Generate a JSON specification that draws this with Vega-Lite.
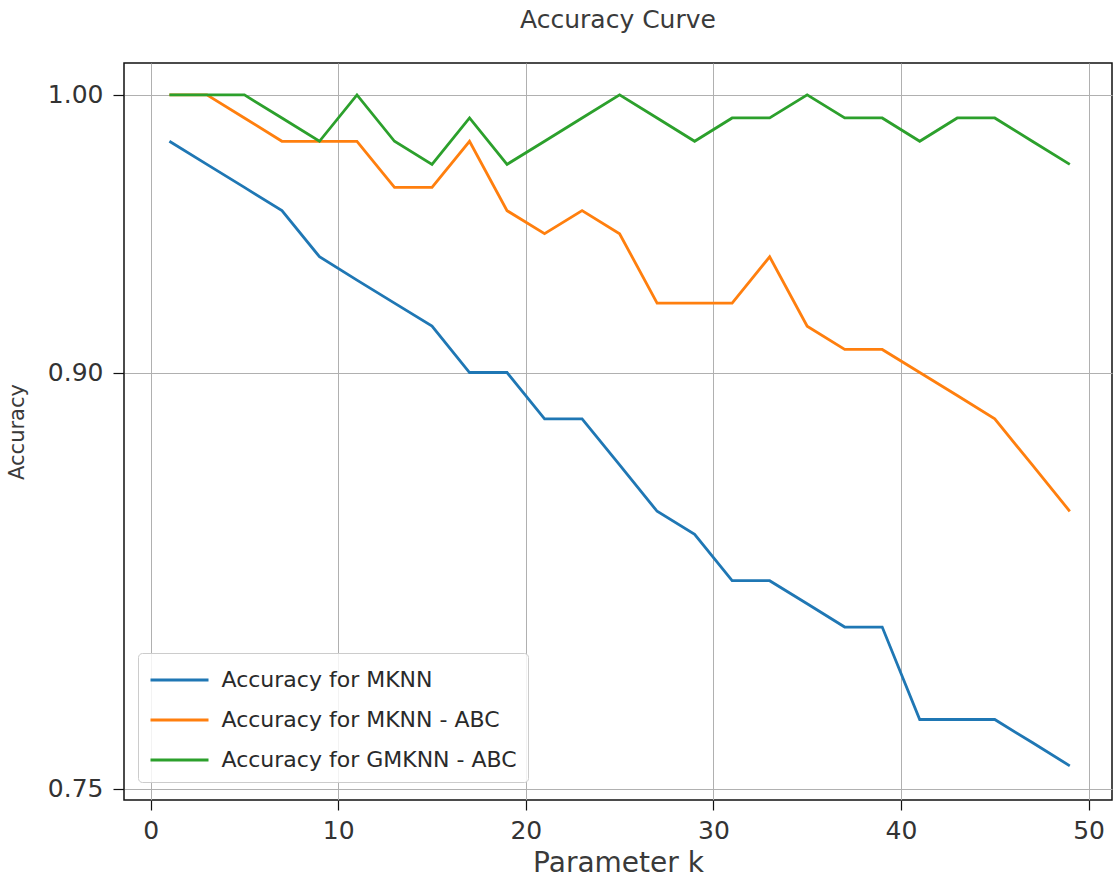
{
  "$schema": "https://vega.github.io/schema/vega-lite/v6.json",
  "width": 988,
  "height": 737,
  "autosize": {"type": "none"},
  "padding": {"left": 124, "top": 63, "right": 3, "bottom": 85},
  "background": "white",
  "title": {
    "text": "Accuracy Curve",
    "fontSize": 25,
    "font": "DejaVu Sans",
    "fontWeight": "normal",
    "color": "#3a3a3a",
    "anchor": "middle",
    "offset": 30
  },
  "data": {
    "values": [
      {"k": 1, "series": "Accuracy for MKNN", "acc": 0.9833},
      {"k": 3, "series": "Accuracy for MKNN", "acc": 0.975},
      {"k": 5, "series": "Accuracy for MKNN", "acc": 0.9667},
      {"k": 7, "series": "Accuracy for MKNN", "acc": 0.9583},
      {"k": 9, "series": "Accuracy for MKNN", "acc": 0.9417},
      {"k": 11, "series": "Accuracy for MKNN", "acc": 0.9333},
      {"k": 13, "series": "Accuracy for MKNN", "acc": 0.925},
      {"k": 15, "series": "Accuracy for MKNN", "acc": 0.9167},
      {"k": 17, "series": "Accuracy for MKNN", "acc": 0.9},
      {"k": 19, "series": "Accuracy for MKNN", "acc": 0.9},
      {"k": 21, "series": "Accuracy for MKNN", "acc": 0.8833},
      {"k": 23, "series": "Accuracy for MKNN", "acc": 0.8833},
      {"k": 25, "series": "Accuracy for MKNN", "acc": 0.8667},
      {"k": 27, "series": "Accuracy for MKNN", "acc": 0.85},
      {"k": 29, "series": "Accuracy for MKNN", "acc": 0.8417},
      {"k": 31, "series": "Accuracy for MKNN", "acc": 0.825},
      {"k": 33, "series": "Accuracy for MKNN", "acc": 0.825},
      {"k": 35, "series": "Accuracy for MKNN", "acc": 0.8167},
      {"k": 37, "series": "Accuracy for MKNN", "acc": 0.8083},
      {"k": 39, "series": "Accuracy for MKNN", "acc": 0.8083},
      {"k": 41, "series": "Accuracy for MKNN", "acc": 0.775},
      {"k": 43, "series": "Accuracy for MKNN", "acc": 0.775},
      {"k": 45, "series": "Accuracy for MKNN", "acc": 0.775},
      {"k": 47, "series": "Accuracy for MKNN", "acc": 0.7667},
      {"k": 49, "series": "Accuracy for MKNN", "acc": 0.7583},
      {"k": 1, "series": "Accuracy for MKNN - ABC", "acc": 1.0},
      {"k": 3, "series": "Accuracy for MKNN - ABC", "acc": 1.0},
      {"k": 5, "series": "Accuracy for MKNN - ABC", "acc": 0.9917},
      {"k": 7, "series": "Accuracy for MKNN - ABC", "acc": 0.9833},
      {"k": 9, "series": "Accuracy for MKNN - ABC", "acc": 0.9833},
      {"k": 11, "series": "Accuracy for MKNN - ABC", "acc": 0.9833},
      {"k": 13, "series": "Accuracy for MKNN - ABC", "acc": 0.9667},
      {"k": 15, "series": "Accuracy for MKNN - ABC", "acc": 0.9667},
      {"k": 17, "series": "Accuracy for MKNN - ABC", "acc": 0.9833},
      {"k": 19, "series": "Accuracy for MKNN - ABC", "acc": 0.9583},
      {"k": 21, "series": "Accuracy for MKNN - ABC", "acc": 0.95},
      {"k": 23, "series": "Accuracy for MKNN - ABC", "acc": 0.9583},
      {"k": 25, "series": "Accuracy for MKNN - ABC", "acc": 0.95},
      {"k": 27, "series": "Accuracy for MKNN - ABC", "acc": 0.925},
      {"k": 29, "series": "Accuracy for MKNN - ABC", "acc": 0.925},
      {"k": 31, "series": "Accuracy for MKNN - ABC", "acc": 0.925},
      {"k": 33, "series": "Accuracy for MKNN - ABC", "acc": 0.9417},
      {"k": 35, "series": "Accuracy for MKNN - ABC", "acc": 0.9167},
      {"k": 37, "series": "Accuracy for MKNN - ABC", "acc": 0.9083},
      {"k": 39, "series": "Accuracy for MKNN - ABC", "acc": 0.9083},
      {"k": 41, "series": "Accuracy for MKNN - ABC", "acc": 0.9},
      {"k": 43, "series": "Accuracy for MKNN - ABC", "acc": 0.8917},
      {"k": 45, "series": "Accuracy for MKNN - ABC", "acc": 0.8833},
      {"k": 47, "series": "Accuracy for MKNN - ABC", "acc": 0.8667},
      {"k": 49, "series": "Accuracy for MKNN - ABC", "acc": 0.85},
      {"k": 1, "series": "Accuracy for GMKNN - ABC", "acc": 1.0},
      {"k": 3, "series": "Accuracy for GMKNN - ABC", "acc": 1.0},
      {"k": 5, "series": "Accuracy for GMKNN - ABC", "acc": 1.0},
      {"k": 7, "series": "Accuracy for GMKNN - ABC", "acc": 0.9917},
      {"k": 9, "series": "Accuracy for GMKNN - ABC", "acc": 0.9833},
      {"k": 11, "series": "Accuracy for GMKNN - ABC", "acc": 1.0},
      {"k": 13, "series": "Accuracy for GMKNN - ABC", "acc": 0.9833},
      {"k": 15, "series": "Accuracy for GMKNN - ABC", "acc": 0.975},
      {"k": 17, "series": "Accuracy for GMKNN - ABC", "acc": 0.9917},
      {"k": 19, "series": "Accuracy for GMKNN - ABC", "acc": 0.975},
      {"k": 21, "series": "Accuracy for GMKNN - ABC", "acc": 0.9833},
      {"k": 23, "series": "Accuracy for GMKNN - ABC", "acc": 0.9917},
      {"k": 25, "series": "Accuracy for GMKNN - ABC", "acc": 1.0},
      {"k": 27, "series": "Accuracy for GMKNN - ABC", "acc": 0.9917},
      {"k": 29, "series": "Accuracy for GMKNN - ABC", "acc": 0.9833},
      {"k": 31, "series": "Accuracy for GMKNN - ABC", "acc": 0.9917},
      {"k": 33, "series": "Accuracy for GMKNN - ABC", "acc": 0.9917},
      {"k": 35, "series": "Accuracy for GMKNN - ABC", "acc": 1.0},
      {"k": 37, "series": "Accuracy for GMKNN - ABC", "acc": 0.9917},
      {"k": 39, "series": "Accuracy for GMKNN - ABC", "acc": 0.9917},
      {"k": 41, "series": "Accuracy for GMKNN - ABC", "acc": 0.9833},
      {"k": 43, "series": "Accuracy for GMKNN - ABC", "acc": 0.9917},
      {"k": 45, "series": "Accuracy for GMKNN - ABC", "acc": 0.9917},
      {"k": 47, "series": "Accuracy for GMKNN - ABC", "acc": 0.9833},
      {"k": 49, "series": "Accuracy for GMKNN - ABC", "acc": 0.975}
    ]
  },
  "mark": {"type": "line", "strokeWidth": 2.8},
  "encoding": {
    "x": {
      "field": "k",
      "type": "quantitative",
      "scale": {"domain": [-1.42, 51.25], "nice": false, "zero": false},
      "axis": {
        "values": [0, 10, 20, 30, 40, 50],
        "title": "Parameter k",
        "titleFontSize": 28,
        "titlePadding": 6,
        "labelFontSize": 25,
        "labelPadding": 8,
        "tickSize": 10
      }
    },
    "y": {
      "field": "acc",
      "type": "quantitative",
      "scale": {"domain": [0.746, 1.0115], "nice": false, "zero": false},
      "axis": {
        "values": [0.75, 0.9, 1.0],
        "format": ".2f",
        "title": "Accuracy",
        "titleFontSize": 21,
        "titlePadding": 20,
        "labelFontSize": 25,
        "labelPadding": 10,
        "tickSize": 11
      }
    },
    "color": {
      "field": "series",
      "type": "nominal",
      "scale": {
        "domain": ["Accuracy for MKNN", "Accuracy for MKNN - ABC", "Accuracy for GMKNN - ABC"],
        "range": ["#1f77b4", "#ff7f0e", "#2ca02c"]
      },
      "legend": {
        "title": null,
        "orient": "none",
        "legendX": 14,
        "legendY": 590,
        "symbolType": "M-2,0H2",
        "symbolSize": 841,
        "symbolStrokeWidth": 2.8,
        "symbolOffset": 14.5,
        "labelFontSize": 22,
        "labelFont": "DejaVu Sans",
        "labelColor": "#2a2a2a",
        "labelLimit": 500,
        "labelOffset": 26,
        "rowPadding": 13,
        "padding": 11,
        "strokeColor": "#cccccc",
        "fillColor": "rgba(255,255,255,0.85)",
        "cornerRadius": 4
      }
    }
  },
  "config": {
    "font": "DejaVu Sans",
    "view": {"stroke": "#111111", "strokeWidth": 1.5},
    "axis": {
      "domain": false,
      "grid": true,
      "gridColor": "#b0b0b0",
      "gridWidth": 1,
      "tickColor": "#111111",
      "tickWidth": 1.2,
      "labelColor": "#333333",
      "labelFont": "DejaVu Sans",
      "titleFont": "DejaVu Sans",
      "titleFontWeight": "normal",
      "titleColor": "#3a3a3a"
    }
  }
}
